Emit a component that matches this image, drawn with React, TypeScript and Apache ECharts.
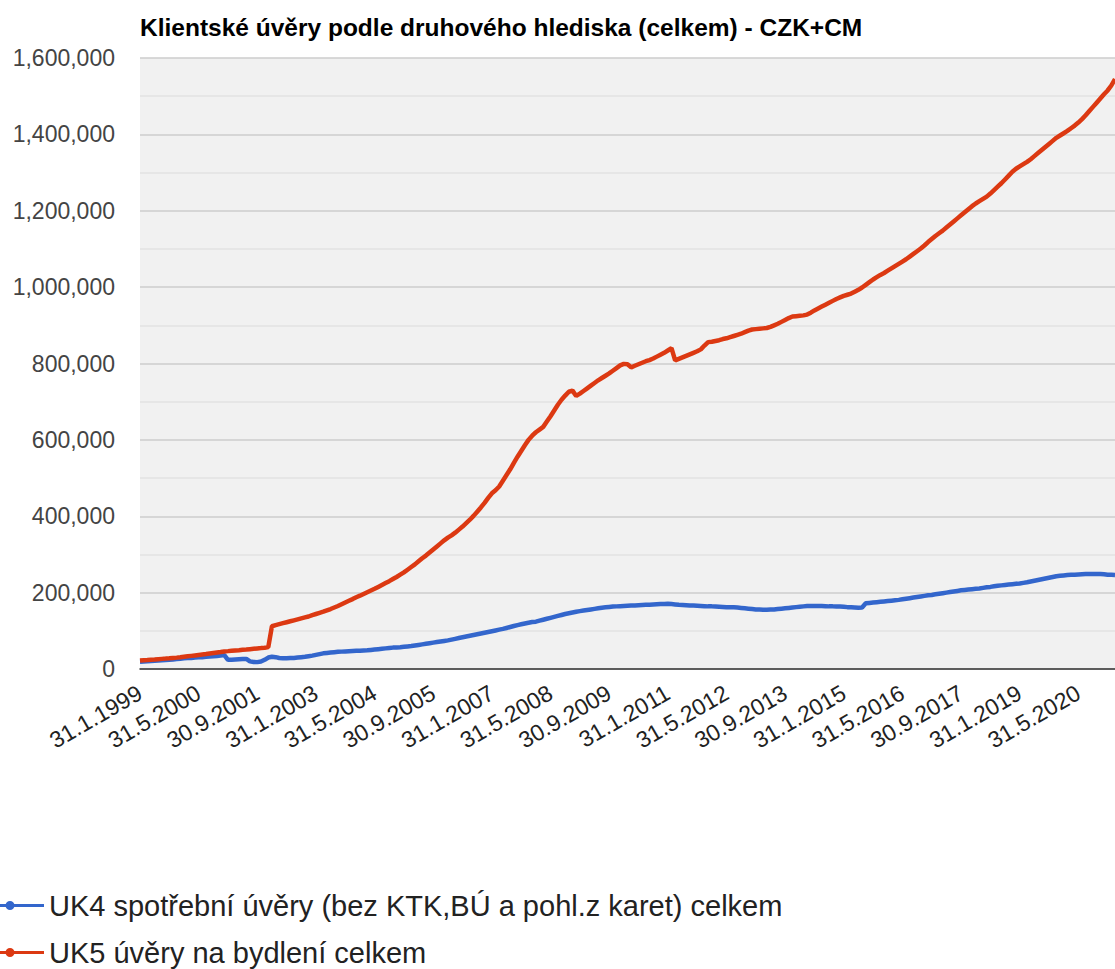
import React, { useEffect, useRef } from "react";
import * as echarts from "echarts";

const TITLE = "Klientské úvěry podle druhového hlediska (celkem) - CZK+CM";
const SERIES_NAMES = [
  "UK4 spotřební úvěry (bez KTK,BÚ a pohl.z karet) celkem",
  "UK5 úvěry na bydlení celkem",
];
const START_YEAR = 1999;
const Y_TICKS = [0, 200000, 400000, 600000, 800000, 1000000, 1200000, 1400000, 1600000];

// UK4 – monthly, Jan 1999 .. Mar 2021
const uk4: number[] = [
  19000, 19500, 20000, 20800, 21500, 22000, 22800, 23500, 24200, 25000, 26000, 27000,
  28000, 28500, 29000, 29800, 30500, 31000, 31800, 32500, 33300, 34000, 35000, 36500,
  24000, 24500, 25000, 25500, 26000, 26500, 20000, 18500, 18000, 19500, 24000, 30000,
  32000, 31000, 29000, 28000, 28000, 28500, 29000, 30000, 31000, 32000, 33500, 35000,
  37000, 39000, 41000, 42000, 43000, 44000, 45000, 45500, 46000, 46500, 47000, 47500,
  48000, 48500, 49000, 50000, 51000, 52000, 53000, 54000, 55000, 56000, 56500, 57000,
  58000, 59000, 60000, 61500, 63000, 64500, 66000, 67500, 69000, 70500, 72000, 73500,
  75000, 77000, 79000, 81000, 83000, 85000, 87000, 89000, 91000, 93000, 95000, 97000,
  99000, 101000, 103000, 105000, 107500, 110000, 112500, 115000, 117000, 119000, 121000, 123000,
  124000, 126500, 129000, 131500, 134000, 136500, 139000, 141500, 144000, 146000, 148000, 150000,
  151500, 153000, 154500, 156000, 157500, 159000, 160500, 161500, 162500, 163500, 164000, 164500,
  165000, 165500, 166000, 166500, 167000, 167500, 168000, 168500, 169000, 169500, 170000, 170500,
  171000, 170000, 169000, 168000, 167500, 167000, 166500, 166000, 165500, 165000, 164500, 164000,
  164000, 163500, 163000, 162500, 162000, 162000, 161500, 161000, 160000, 159000, 158000, 157000,
  156000, 155500, 155000, 155000, 155500, 156000, 157000, 158000, 159000, 160000, 161000, 162000,
  163000, 164000, 165000, 165000, 165000, 165000, 165000, 164500, 164000, 164000, 163500, 163500,
  163000, 162000, 161500, 161000, 160500, 161000, 172000, 173000, 174000, 175000, 176000, 177000,
  178000, 179000, 180000, 181000, 182500, 184000, 185500, 187000, 188500, 190000, 191500, 193000,
  194000, 195500, 197000, 198500, 200000, 201500, 203000, 204500, 206000, 207000, 208000, 209000,
  210000, 211000, 212500, 214000, 215000, 216500, 218000, 219000, 220000, 221000, 222000, 223000,
  224000, 225500, 227000, 229000, 231000, 233000, 235000, 237000, 239000, 241000, 243000, 244000,
  245000, 246000, 246500, 247000, 247500, 248000, 248500, 249000, 249000, 249000, 248500, 248000,
  247000, 246500, 246000,
];

// UK5 – monthly, Jan 1999 .. Mar 2021
const uk5: number[] = [
  22000, 22800, 23500, 24300, 25000, 25800, 26500, 27200, 28000, 28900, 29800, 30800,
  32000, 33200, 34400, 35600, 36800, 38000, 39200, 40500, 41800, 43100, 44400, 46000,
  46800, 47700, 48600, 49400, 50300, 51100, 52000, 52900, 53800, 54700, 55700, 57500,
  112000, 115000, 117500, 120000, 122500, 125000, 127500, 130000, 132500, 135000, 137500, 141000,
  144000, 147000, 150000, 153500, 157000, 161000, 165000, 169500, 174000, 178500, 183000, 188000,
  192000, 196500, 201000, 205500, 210000, 215000, 220000, 225000, 230000, 235500, 241000, 247000,
  253000, 260000, 267000, 274000, 282000, 290000, 297000, 305000, 313000, 321000, 329000, 337000,
  344000, 350000, 357000, 365000, 373000, 382000, 391000, 401000, 412000, 423000, 435000, 448000,
  460000, 468000, 478000, 493000, 508000, 523000, 540000, 556000, 571000, 586000, 600000, 611000,
  620000, 627000, 634000, 648000, 662000, 677000, 692000, 705000, 716000, 726000, 729000, 715000,
  721000, 728000, 735000, 742000, 749000, 756000, 762000, 768000, 774000, 781000, 788000, 795000,
  799000, 798000, 790000, 794000, 798000, 802000, 806000, 809000, 813000, 818000, 823000, 828000,
  834000, 840000, 808000, 812000, 816000, 820000, 824000, 828000, 832000, 837000, 847000, 856000,
  857000, 859000, 861000, 864000, 866000, 869000, 872000, 875000, 878000, 882000, 886000, 889000,
  890000, 891000, 892000, 893000, 896000, 900000, 904000, 909000, 914000, 919000, 923000, 924000,
  925000, 926000, 928000, 933000, 939000, 944000, 949000, 954000, 959000, 964000, 969000, 973000,
  977000, 980000, 983000, 988000, 993000, 999000, 1006000, 1013000, 1020000, 1026000, 1032000, 1037000,
  1043000, 1049000, 1055000, 1061000, 1067000, 1073000, 1080000, 1087000, 1094000, 1101000, 1109000, 1118000,
  1126000, 1134000, 1141000, 1148000, 1156000, 1164000, 1172000, 1180000, 1188000, 1196000, 1204000, 1212000,
  1219000, 1225000, 1231000, 1237000, 1245000, 1254000, 1263000, 1272000, 1282000, 1292000, 1302000, 1310000,
  1316000, 1322000, 1328000, 1335000, 1343000, 1351000, 1359000, 1367000, 1375000, 1383000, 1391000, 1397000,
  1403000, 1409000, 1416000, 1423000, 1431000, 1440000, 1450000, 1461000, 1472000, 1483000, 1494000, 1505000,
  1515000, 1528000, 1545000,
];

// category labels: last day of each month
const categories: string[] = uk5.map((_, i) => {
  const y = START_YEAR + Math.floor(i / 12);
  const m = i % 12;
  const d = new Date(y, m + 1, 0).getDate();
  return `${d}.${m + 1}.${y}`;
});

const FONT = "'Liberation Sans', Arial, sans-serif";
const LEGEND_ICON =
  "path://M0,4H44V7H0Z M5.5,5.5A4.5,4.5 0 1,1 14.5,5.5A4.5,4.5 0 1,1 5.5,5.5Z";

export default function App() {
  const ref = useRef<HTMLDivElement>(null);
  useEffect(() => {
    if (!ref.current) return;
    const chart = echarts.init(ref.current, undefined, { renderer: "svg" });
    chart.setOption({
      animation: false,
      backgroundColor: "#ffffff",
      textStyle: { fontFamily: FONT },
      title: {
        text: TITLE,
        left: 135,
        top: 10,
        textStyle: { fontFamily: FONT, fontSize: 24.5, fontWeight: "bold", color: "#000" },
      },
      legend: {
        orient: "vertical",
        left: 0,
        bottom: 0,
        padding: 0,
        itemWidth: 44,
        itemHeight: 9,
        itemGap: 14,
        icon: LEGEND_ICON,
        textStyle: { fontFamily: FONT, fontSize: 29, lineHeight: 33, color: "#222" },
        data: SERIES_NAMES,
      },
      grid: {
        left: 140,
        top: 58,
        right: 0,
        bottom: 300,
        show: true,
        backgroundColor: "#f1f1f1",
        borderWidth: 0,
        containLabel: false,
      },
      xAxis: {
        type: "category",
        data: categories,
        boundaryGap: false,
        axisTick: { show: false },
        axisLine: { show: true, lineStyle: { color: "#333", width: 1.5 } },
        axisLabel: {
          interval: 15,
          rotate: 30,
          margin: 22,
          fontFamily: FONT,
          fontSize: 23,
          color: "#222",
        },
        splitLine: { show: false },
      },
      yAxis: {
        type: "value",
        min: Y_TICKS[0],
        max: Y_TICKS[Y_TICKS.length - 1],
        interval: Y_TICKS[1] - Y_TICKS[0],
        axisLine: { show: false },
        axisTick: { show: false },
        axisLabel: {
          margin: 25,
          fontFamily: FONT,
          fontSize: 23,
          color: "#444",
          formatter: (v: number) => v.toLocaleString("en-US"),
        },
        splitLine: { show: true, lineStyle: { color: "#cccccc", width: 1.5 } },
        minorTick: { show: false, splitNumber: 2 },
        minorSplitLine: { show: true, lineStyle: { color: "#e2e2e2", width: 1.5 } },
      },
      series: [
        {
          name: SERIES_NAMES[0],
          type: "line",
          data: uk4,
          showSymbol: false,
          symbol: "circle",
          color: "#3366cc",
          lineStyle: { width: 4.5, color: "#3366cc" },
        },
        {
          name: SERIES_NAMES[1],
          type: "line",
          data: uk5,
          showSymbol: false,
          symbol: "circle",
          color: "#dc3912",
          lineStyle: { width: 4.5, color: "#dc3912" },
        },
      ],
    });
    return () => chart.dispose();
  }, []);
  return (
    <div
      ref={ref}
      style={{ position: "fixed", left: 0, top: 0, width: 1115, height: 969 }}
    />
  );
}
